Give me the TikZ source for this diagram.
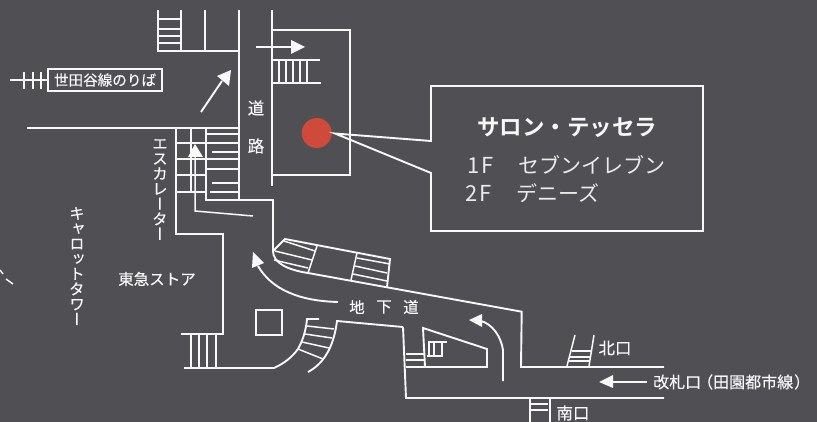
\documentclass[tikz,border=0pt]{standalone}
\usepackage{fontspec}
\setmainfont[FakeBold=0.35]{Noto Sans CJK JP}
\newfontfamily\lightf{Noto Sans CJK JP}
\newfontfamily\cjkv[RawFeature={+vert},FakeBold=0.35]{Noto Sans CJK JP}
\newfontfamily\titlef{Noto Sans CJK JP Bold}
\definecolor{bgc}{HTML}{505054}
\definecolor{redc}{HTML}{CF4A3A}
\definecolor{inkc}{HTML}{F8F8F8}
\tikzset{
  wall/.style={draw=inkc,line width=1.9pt,line join=miter},
  rung/.style={draw=inkc,line width=1.5pt},
  head/.style={fill=inkc,draw=none},
  lbl/.style={text=inkc,inner sep=0pt,font=\fontsize{15.5}{15.5}\selectfont},
  big/.style={text=inkc!92!bgc,inner sep=0pt,anchor=west,font=\lightf\fontsize{21}{21}\selectfont},
  vlbl/.style={text=inkc,inner sep=0pt,align=center,font=\cjkv\fontsize{15.5}{15.1}\selectfont},
}
\begin{document}
\begin{tikzpicture}[x=1pt,y=-1pt]
\useasboundingbox (0,0) rectangle (817,422);
\fill[bgc] (0,0) rectangle (817,422);
% roads, top
\draw[wall] (158,10) -- (158,51) -- (239,51);
\draw[wall] (181,10) -- (181,51);
\draw[wall] (205,10) -- (205,51);
\draw[wall] (239,10) -- (239,200);
\draw[wall] (272,10) -- (272,186);
\foreach \y in {19,29,36,43} \draw[rung] (158,\y) -- (181,\y);
% building
\draw[wall] (272,30) -- (350,30) -- (350,175) -- (272,175);
\draw[wall] (256,47) -- (292,47);
\fill[head] (291,40) -- (305,47) -- (291,54) -- cycle;
\draw[rung] (273,60) -- (320,60);
\draw[rung] (273,83) -- (321,83);
\foreach \x in {279,286,293,300,307} \draw[rung] (\x,60) -- (\x,83);
\fill[redc] (316.7,133) circle (15);
% callout
\draw[wall] (431,141) -- (335,133.5) -- (431,173) -- (431,231) -- (703,231) -- (703,86) -- (431,86) -- cycle;
\node[lbl,font=\titlef\fontsize{22.5}{22.5}\selectfont] (title) at (567,127.5) {サロン・テッセラ};
\node[big,font=\lightf\fontsize{22}{22}\selectfont] (l1a) at (467,165) {1\hspace{2pt}F};
\node[big] (l1b) at (518,165) {セブンイレブン};
\node[big,font=\lightf\fontsize{22}{22}\selectfont] (l2a) at (465,193) {2\hspace{2pt}F};
\node[big] (l2b) at (516,193) {デニーズ};
% setagaya line
\draw[wall] (48,69) rectangle (162,91);
\node[lbl,font=\fontsize{14.6}{14.6}\selectfont] (setagaya) at (105,80) {世田谷線のりば};
\draw[rung] (10,80) -- (48,80);
\foreach \x in {24,33,41} \draw[rung] (\x,72) -- (\x,89);
% diagonal arrow
\draw[wall] (201,112) -- (222,81);
\fill[head] (231,70) -- (229,86) -- (217,76) -- cycle;
\draw[wall] (27,128) -- (239,128);
\node[lbl,font=\fontsize{16.5}{16.5}\selectfont] (road1) at (256,108) {道};
\node[lbl,font=\fontsize{16.5}{16.5}\selectfont] (road2) at (256,146) {路};
% escalator block
\draw[wall] (176,128) -- (176,234) -- (223,234) -- (223,334) -- (181,334);
\draw[wall] (206,128) -- (206,200) -- (273,200) -- (273,251);
\draw[rung] (191,128) -- (191,192);
\draw[rung] (195,157) -- (195,211) -- (230,214) -- (253,216);
\draw[rung] (176,143) -- (239,143);
\draw[rung] (176,159) -- (206,159);
\draw[rung] (176,175) -- (206,175);
\draw[rung] (176,192) -- (206,192);
\draw[rung] (207,134) -- (239,134);
\draw[rung] (212,152) -- (239,152);
\draw[rung] (207,159) -- (239,159);
\draw[rung] (207,169) -- (239,169);
\draw[rung] (212,183) -- (239,183);
\draw[rung] (210,192) -- (239,192);
\fill[head] (195,144) -- (203,157) -- (188,157) -- cycle;
\node[vlbl,anchor=north] (esc) at (160,139) {エ\\ス\\カ\\レ\\ー\\タ\\ー};
\node[vlbl,anchor=north] (carrot) at (77,207) {キ\\ャ\\ロ\\ッ\\ト\\タ\\ワ\\ー};
\node[lbl] (store) at (157,279) {東急ストア};
\draw[rung] (0,270) -- (3,274);
\draw[rung] (6,279) -- (13,284);
% lower left stairs
\foreach \x in {191,199,207,216} \draw[rung] (\x,334) -- (\x,368);
\draw[wall] (184,368) -- (274,368) .. controls (285,363) and (292,357) .. (298,349) .. controls (303,340) and (306,330) .. (307,319) -- (319,319);
\draw[wall] (403,327) -- (337,321) .. controls (334,345) and (325,363) .. (308,372);
\draw[rung] (307,326) -- (334,329);
\draw[rung] (305,334) -- (332,338);
\draw[rung] (302,342) -- (329,348);
\draw[rung] (298,349) -- (323,359);
\draw[wall] (255.7,310) rectangle (281.7,335);
% underpass upper stairs
\draw[wall] (273,251) -- (285,239) -- (390,259) -- (387,287);
\draw[wall] (273,251) .. controls (273,263) and (288,270) .. (308,273) -- (521.7,311.7) -- (521,367) -- (664,367);
\draw[rung] (317,246) -- (308,273);
\draw[rung] (357,253) -- (351,280);
\draw[rung] (284,241) -- (315,251);
\draw[rung] (275,251) -- (312,260);
\draw[rung] (274,260) -- (308,268);
\draw[rung] (357,258) -- (390,264);
\draw[rung] (355,266) -- (387,273);
\draw[rung] (353,274) -- (387,281);
% left curved arrow
\draw[wall] (338,302) .. controls (300,301) and (272,290) .. (258,266);
\fill[head] (253,252) -- (264,263) -- (252,268) -- cycle;
\node[lbl] (ug1) at (357,307) {地};
\node[lbl] (ug2) at (384,307) {下};
\node[lbl] (ug3) at (411,307) {道};
% right part of underpass
\draw[wall] (403,327) -- (406,398) -- (664,398);
\draw[wall] (406,367) -- (487,367) -- (487,349) -- (423,328) -- (425,367);
\draw[rung] (406,354) -- (424,354);
\draw[rung] (406,360) -- (424,360);
\draw[rung] (428,342) -- (447,342);
\draw[rung] (427,356) -- (443,356);
\foreach \x in {429,434,442} \draw[rung] (\x,342) -- (\x,356);
% right curved arrow
\draw[wall] (503,381) -- (503,350) .. controls (501,336) and (492,324) .. (481,321);
\fill[head] (469,320) -- (482,314) -- (482,327) -- cycle;
% north exit
\draw[rung] (575,335) -- (567,366);
\draw[rung] (594,335) -- (589,366);
\draw[rung] (572,351) -- (592,351);
\draw[rung] (569,357) -- (590,357);
\draw[rung] (568,361) -- (589,361);
\node[lbl,font=\fontsize{16.5}{16.5}\selectfont] (north) at (615,348) {北口};
% gate
\draw[wall] (647,382) -- (612,382);
\fill[head] (599,382) -- (613,375) -- (613,388) -- cycle;
\node[lbl,anchor=west,font=\fontsize{16}{16}\selectfont] (gate) at (653,382) {改札口\hspace{-4pt}（田園都市線\hspace{1pt}）};
% south exit
\draw[rung] (530,398) -- (530,422);
\draw[rung] (550,398) -- (550,422);
\draw[rung] (530,404) -- (548,404);
\draw[rung] (530,410) -- (548,410);
\node[lbl,font=\fontsize{16.5}{16.5}\selectfont] (south) at (573,413) {南口};
\end{tikzpicture}
\end{document}
